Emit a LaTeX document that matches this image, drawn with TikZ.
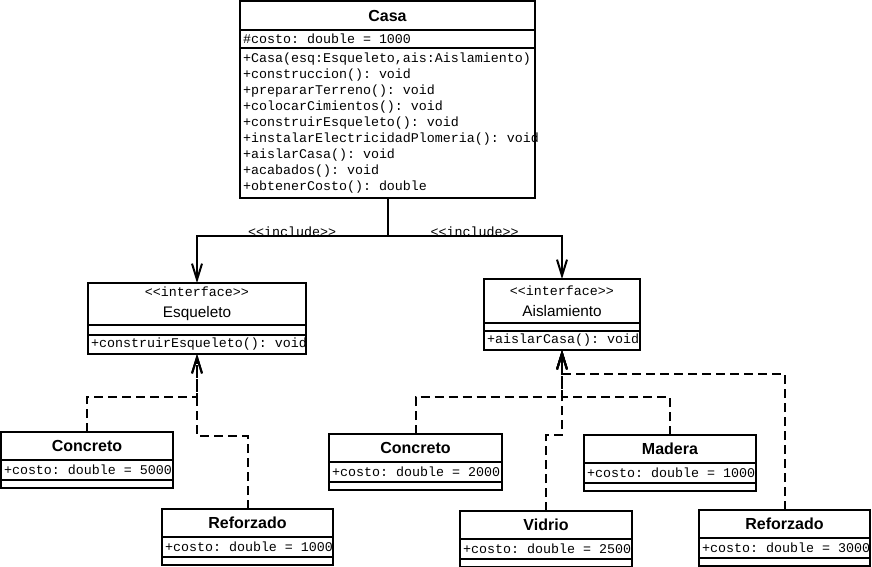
\documentclass[tikz,border=0pt]{standalone}
\usepackage{fontspec}
\newfontfamily\monofont{Liberation Mono}
\newfontfamily\sansfont{Liberation Sans}
\newcommand{\monosize}{\monofont\fontsize{10}{12}\selectfont}
\newcommand{\msp}{\hbox to 6pt{}}
\usetikzlibrary{arrows.meta}

\begin{document}
\begin{tikzpicture}[x=0.75pt,y=-0.75pt,
  ctitle/.style={draw,line width=1.5pt,anchor=north west,inner sep=0pt,outer sep=0pt,minimum width=#1*0.75pt,minimum height=21pt,font=\sansfont\bfseries\fontsize{12}{14}\selectfont},
  cface/.style={draw,line width=1.5pt,anchor=north west,inner sep=0pt,outer sep=0pt,minimum width=#1*0.75pt,minimum height=31.5pt,align=center,font=\sansfont\fontsize{11.5}{16}\selectfont},
  cattr/.style={draw,line width=1.5pt,anchor=north west,inner xsep=2.25pt,inner ysep=0pt,outer sep=0pt,text width=#1*0.75pt-4.5pt,minimum height=15pt,align=left,font=\monosize},
  cempty/.style={draw,line width=1.5pt,anchor=north west,inner sep=0pt,outer sep=0pt,minimum width=#1*0.75pt,minimum height=6pt},
  incl/.style={line width=1.5pt,-{Straight Barb[length=12pt,width=7.5pt]}},
  impl/.style={line width=1.5pt,dash pattern=on 6.75pt off 3.75pt,-{Straight Barb[length=12pt,width=7.5pt]}},
  lbl/.style={inner sep=0pt,anchor=base,font=\monosize}]
\useasboundingbox (0,0) rectangle (872,567);
\node[ctitle=295,minimum height=21.75pt] (casa) at (240,1) {Casa};
\node[cattr=295,minimum height=13.5pt] (casa-a) at (casa.south west) {\#costo:\msp double\msp=\msp 1000};
\node[cattr=295,minimum height=112.5pt] (casa-m) at (casa-a.south west) {+Casa(esq:Esqueleto,ais:Aislamiento)\\+construccion():\msp void\\+prepararTerreno():\msp void\\+colocarCimientos():\msp void\\+construirEsqueleto():\msp void\\+instalarElectricidadPlomeria():\msp void\\+aislarCasa():\msp void\\+acabados():\msp void\\+obtenerCosto():\msp double};
\node[cface=218] (esq) at (88,283) {{\monosize <<interface>>}\\Esqueleto};
\node[cempty=218,minimum height=7.5pt] (esq-a) at (esq.south west) {};
\node[cattr=218,minimum height=14.25pt] (esq-m) at (esq-a.south west) {+construirEsqueleto():\msp void};
\node[cface=156,minimum height=33pt] (ais) at (484,279) {{\monosize <<interface>>}\\Aislamiento};
\node[cempty=156] (ais-a) at (ais.south west) {};
\node[cattr=156,minimum height=14.25pt] (ais-m) at (ais-a.south west) {+aislarCasa():\msp void};
\node[ctitle=172] (conL) at (1,432) {Concreto};
\node[cattr=172] (conL-a) at (conL.south west) {+costo:\msp double\msp=\msp 5000};
\node[cempty=172] (conL-e) at (conL-a.south west) {};
\node[ctitle=171] (refL) at (162,509) {Reforzado};
\node[cattr=171] (refL-a) at (refL.south west) {+costo:\msp double\msp=\msp 1000};
\node[cempty=171] (refL-e) at (refL-a.south west) {};
\node[ctitle=173] (conR) at (329,434) {Concreto};
\node[cattr=173] (conR-a) at (conR.south west) {+costo:\msp double\msp=\msp 2000};
\node[cempty=173] (conR-e) at (conR-a.south west) {};
\node[ctitle=172] (mad) at (584,435) {Madera};
\node[cattr=172] (mad-a) at (mad.south west) {+costo:\msp double\msp=\msp 1000};
\node[cempty=172] (mad-e) at (mad-a.south west) {};
\node[ctitle=172] (vid) at (460,511) {Vidrio};
\node[cattr=172] (vid-a) at (vid.south west) {+costo:\msp double\msp=\msp 2500};
\node[cempty=172] (vid-e) at (vid-a.south west) {};
\node[ctitle=171] (refR) at (699,510) {Reforzado};
\node[cattr=171] (refR-a) at (refR.south west) {+costo:\msp double\msp=\msp 3000};
\node[cempty=171] (refR-e) at (refR-a.south west) {};
\draw[incl] (casa-m.south) -- ++(0,38) -| node[lbl,pos=0.25] {<<include>>} (esq.north);
\draw[incl] (casa-m.south) -- ++(0,38) -| node[lbl,pos=0.25] {<<include>>} (ais.north);
\draw[impl] (conL.north) -- ++(0,-35) -| (esq-m.south);
\draw[impl] (refL.north) -- ++(0,-73) -| (esq-m.south);
\draw[impl] (conR.north) -- ++(0,-37) -| (ais-m.south);
\draw[impl] (mad.north) -- ++(0,-38) -| (ais-m.south);
\draw[impl] (vid.north) -- ++(0,-76) -| (ais-m.south);
\draw[impl] (refR.north) -- ++(0,-136) -| (ais-m.south);
\end{tikzpicture}
\end{document}
